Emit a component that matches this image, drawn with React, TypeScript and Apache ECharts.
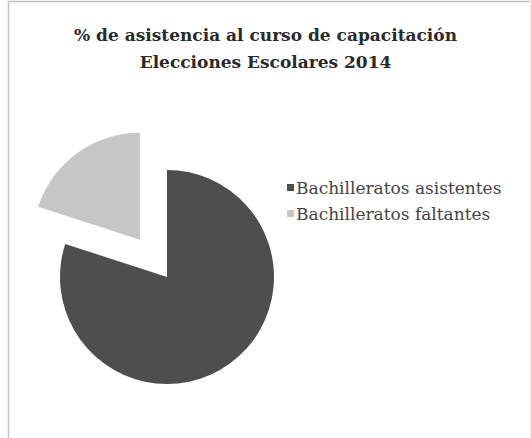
import React, { useEffect, useRef } from "react";
import * as echarts from "echarts";

const titleLines = ["% de asistencia al curso de capacitación", "Elecciones Escolares 2014"];
const categories = ["Bachilleratos asistentes", "Bachilleratos faltantes"];
const values = [80, 20];
const colors = ["#4e4e4e", "#c6c6c6"];
const exploded = [false, true];

export default function App() {
  const ref = useRef<HTMLDivElement>(null);
  useEffect(() => {
    if (!ref.current) return;
    const chart = echarts.init(ref.current, null, { renderer: "svg" });
    chart.setOption({
      animation: false,
      backgroundColor: "#ffffff",
      title: {
        text: titleLines.join("\n"),
        left: "center",
        top: 16,
        textStyle: {
          fontFamily: "DejaVu Serif",
          fontWeight: "bold",
          fontSize: 17,
          lineHeight: 27,
          color: "#2a2a2a",
        },
      },
      legend: {
        orient: "vertical",
        left: 282,
        top: 174,
        itemWidth: 7,
        itemHeight: 7,
        itemGap: 9,
        icon: "rect",
        selectedMode: false,
        textStyle: {
          fontFamily: "DejaVu Serif",
          fontSize: 17,
          lineHeight: 17,
          color: "#444444",
          padding: [0, 0, 0, -3],
        },
        data: categories,
      },
      graphic: [
        { type: "line", shape: { x1: 8, y1: 1.5, x2: 530, y2: 1.5 }, style: { stroke: "#bdbdbd", lineWidth: 1.5 } },
        { type: "line", shape: { x1: 8.5, y1: 1, x2: 8.5, y2: 438 }, style: { stroke: "#c4c4c4", lineWidth: 1.5 } },
        { type: "line", shape: { x1: 530, y1: 1, x2: 530, y2: 438 }, style: { stroke: "#eeeeee", lineWidth: 1 } },
      ],
      series: [
        {
          type: "pie",
          center: [167, 277],
          radius: 107,
          startAngle: 90,
          clockwise: true,
          selectedMode: "multiple",
          selectedOffset: 46,
          label: { show: false },
          labelLine: { show: false },
          emphasis: { disabled: true },
          data: categories.map((name, i) => ({
            name,
            value: values[i],
            selected: exploded[i],
            itemStyle: { color: colors[i] },
          })),
        },
      ],
    });
    return () => chart.dispose();
  }, []);
  return (
    <div
      ref={ref}
      style={{ position: "fixed", left: 0, top: 0, width: 531, height: 438 }}
    />
  );
}
